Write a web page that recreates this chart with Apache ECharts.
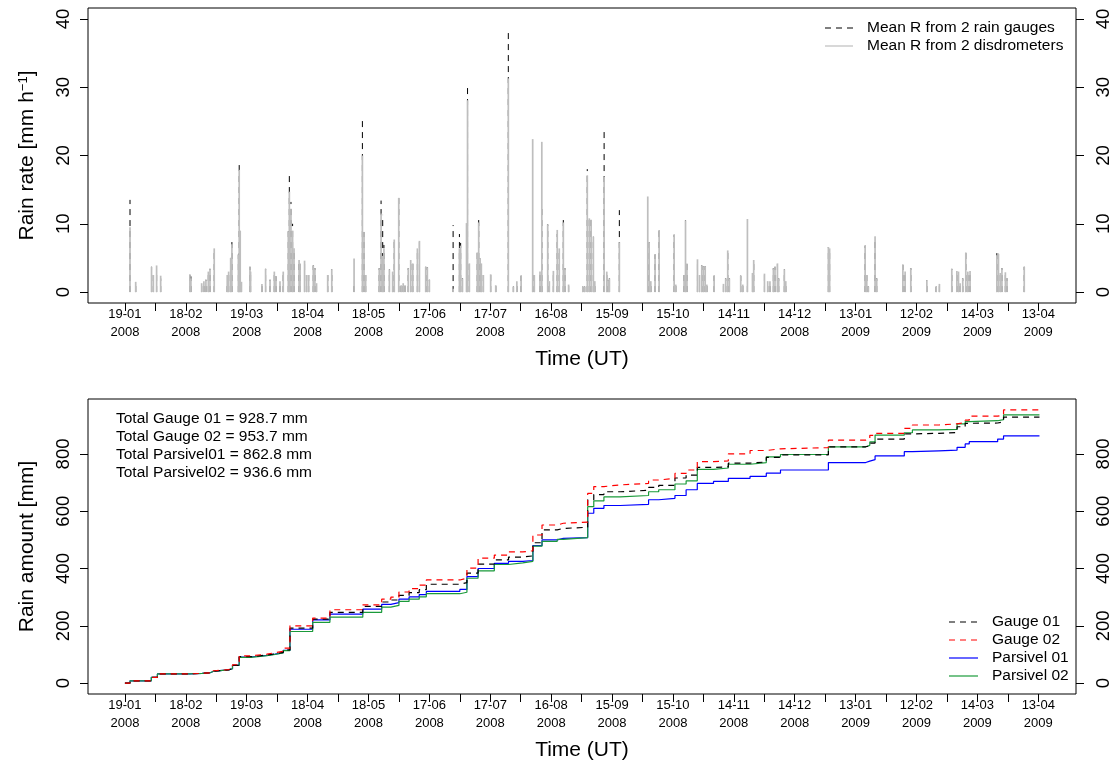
<!DOCTYPE html>
<html>
<head>
<meta charset="utf-8">
<title>Rain rate and accumulated rain amount</title>
<script src="https://cdn.jsdelivr.net/npm/echarts@6/dist/echarts.min.js"></script>
<style>
  html, body { margin: 0; padding: 0; background: #ffffff; }
  #chart { width: 1115px; height: 767px; }
</style>
</head>
<body>
<div id="chart"></div>
<script>
// Time is counted in days from 19-01-2008 00 UT.

// Axis ticks: one every 15 days, a date label every 30 days.
const tickDays = [0, 15, 30, 45, 60, 75, 90, 105, 120, 135, 150, 165, 180, 195, 210, 225, 240,
  255, 270, 285, 300, 315, 330, 345, 360, 375, 390, 405, 420, 435, 450];
const labelDays = [0, 30, 60, 90, 120, 150, 180, 210, 240, 270, 300, 330, 360, 390, 420, 450];
const labelDates = ['19-01', '18-02', '19-03', '18-04', '18-05', '17-06', '17-07', '16-08',
  '15-09', '15-10', '14-11', '14-12', '13-01', '12-02', '14-03', '13-04'];
const labelYears = ['2008', '2008', '2008', '2008', '2008', '2008', '2008', '2008',
  '2008', '2008', '2008', '2008', '2009', '2009', '2009', '2009'];
const rateTicks = [0, 10, 20, 30, 40];
const amountTicks = [0, 200, 400, 600, 800];

// Rain-rate peaks [mm h-1]
const rateDays = [2.5, 5.3, 13.1, 14.0, 15.6, 17.6, 32.0, 32.5, 37.8, 38.9, 39.9, 41.1, 41.9, 44.0,
  50.4, 51.1, 52.1, 52.7, 55.9, 56.3, 56.8, 57.4, 61.6, 61.9, 67.5, 69.3, 71.5, 73.6, 74.4, 76.4,
  78.0, 80.5, 81.0, 81.8, 82.6, 83.3, 85.8, 86.3, 88.5, 89.5, 90.5, 92.8, 93.6, 94.4, 99.9, 101.9,
  112.9, 117.0, 117.8, 118.6, 125.3, 126.2, 127.0, 127.6, 130.3, 131.9, 132.7, 134.9, 136.1, 137.1,
  138.0, 139.6, 140.8, 141.8, 144.1, 145.1, 148.2, 149.0, 150.0, 161.7, 164.8, 165.4, 166.3, 168.3,
  168.8, 169.7, 173.6, 174.3, 175.0, 175.6, 176.6, 180.2, 182.7, 188.9, 191.4, 193.1, 195.2, 200.9,
  201.7, 204.5, 205.4, 208.3, 209.1, 211.1, 213.0, 214.0, 216.0, 216.8, 218.6, 225.6, 226.5, 227.8,
  228.8, 229.7, 230.8, 231.5, 236.1, 237.4, 238.1, 238.7, 243.6, 257.6, 258.3, 259.1, 261.2, 263.2,
  270.6, 271.4, 275.5, 276.2, 276.9, 282.1, 283.1, 284.2, 285.0, 285.9, 286.7, 290.3, 294.9, 296.0,
  297.0, 297.8, 303.4, 304.4, 306.7, 309.2, 309.8, 315.1, 316.7, 317.8, 319.5, 320.3, 321.5, 322.1,
  324.9, 325.6, 346.6, 347.2, 364.7, 365.5, 366.3, 369.6, 370.4, 383.3, 384.4, 387.2, 395.1, 399.7,
  401.3, 407.4, 409.9, 410.7, 411.5, 412.8, 414.3, 415.3, 416.4, 429.6, 430.4, 431.3, 432.1, 433.8,
  434.6, 443.1];
const gaugeRate = [13.5, 1.5, 3.7, 2.5, 3.0, 2.0, 2.6, 2.3, 1.3, 1.6, 1.8, 3.0, 3.4, 6.4,
  1.2, 3.0, 5.0, 7.9, 5.5, 19.2, 9.1, 1.5, 3.7, 3.0, 1.2, 3.4, 1.8, 3.0, 2.3, 1.6,
  3.0, 8.9, 17.4, 13.2, 10.0, 6.4, 4.7, 4.2, 4.6, 2.5, 2.5, 3.9, 3.5, 1.3, 2.5, 3.3,
  1.0, 25.2, 8.8, 2.5, 3.5, 13.4, 11.3, 6.9, 3.3, 3.0, 7.7, 13.8, 1.0, 1.3,
  1.0, 3.5, 4.7, 4.2, 6.4, 7.5, 3.7, 3.6, 1.8, 9.8, 8.5, 7.2, 2.0, 5.0,
  30.6, 4.2, 5.8, 10.8, 4.9, 4.2, 2.5, 2.6, 1.0, 38.6, 0.8, 1.6, 2.4, 2.5,
  2.5, 3.0, 12.6, 9.9, 1.6, 3.1, 8.5, 6.4, 11.1, 3.5, 1.1, 0.8, 0.8, 18.0,
  10.8, 10.6, 8.1, 1.6, 23.7, 3.0, 1.7, 2.0, 12.0, 4.0, 7.3, 1.6, 5.5, 9.1,
  8.4, 1.1, 2.5, 10.5, 4.2, 4.8, 2.5, 3.9, 3.8, 3.8, 1.1, 2.4, 1.2, 2.0,
  6.1, 2.0, 2.4, 1.1, 1.5, 2.8, 4.7, 2.7, 1.6, 1.6, 3.5, 3.7, 4.2, 2.0,
  3.3, 1.6, 6.6, 6.4, 6.8, 2.5, 0.8, 8.1, 2.0, 4.0, 3.0, 3.5, 1.7, 0.8,
  1.2, 3.4, 3.1, 3.0, 1.3, 2.0, 5.8, 3.0, 3.1, 5.7, 5.6, 2.8, 3.5, 2.9,
  2.0, 3.7];
const disdroRate = [9.5, 1.5, 3.7, 2.5, 3.9, 2.4, 2.6, 2.0, 1.3, 1.6, 1.8, 3.0, 3.4, 6.4,
  2.5, 3.0, 5.0, 7.0, 5.5, 17.9, 9.0, 1.5, 3.7, 3.0, 1.2, 3.4, 1.8, 3.0, 2.3, 1.6,
  3.0, 8.9, 14.7, 12.2, 9.0, 6.4, 4.7, 4.2, 4.6, 2.5, 2.5, 3.9, 3.5, 1.3, 2.5, 3.3,
  4.9, 20.0, 8.8, 2.5, 3.5, 11.5, 5.3, 6.4, 3.3, 3.0, 7.7, 13.8, 1.0, 1.3,
  1.0, 3.5, 4.7, 4.2, 6.4, 7.5, 3.7, 3.6, 1.8, 0.5, 6.4, 6.8, 2.0, 10.1,
  28.1, 4.2, 5.8, 10.2, 4.9, 4.2, 2.5, 2.6, 1.0, 31.3, 0.8, 1.6, 2.4, 22.4,
  2.5, 3.0, 22.0, 9.9, 1.6, 3.1, 9.1, 6.4, 10.2, 3.5, 1.1, 0.8, 0.8, 17.1,
  10.8, 10.6, 8.1, 1.6, 16.9, 3.0, 1.7, 2.0, 7.3, 14.0, 7.3, 1.6, 5.5, 9.1,
  8.4, 1.1, 2.5, 10.5, 4.2, 4.8, 2.5, 3.9, 3.8, 3.8, 1.1, 2.4, 1.2, 2.0,
  6.1, 2.0, 2.4, 1.1, 10.7, 2.8, 4.7, 2.7, 1.6, 1.6, 3.5, 3.7, 4.2, 2.0,
  3.3, 1.6, 6.6, 6.4, 6.8, 2.5, 0.8, 8.1, 2.0, 4.0, 3.0, 3.5, 1.7, 0.8,
  1.2, 3.4, 3.1, 3.0, 1.3, 2.0, 5.8, 3.0, 3.1, 5.4, 5.6, 2.8, 3.5, 2.9,
  2.0, 3.7];

// Accumulated rain amount [mm] after each rain spell
const stepDays = [0, 2.5, 13, 16, 32, 38, 42, 44, 51, 53, 56.3, 62, 70, 74, 78, 81.3, 92.5, 101,
  117.2, 126.5, 131, 135, 140, 145, 148.5, 165, 168.5, 174, 182, 189, 196, 201, 205.5, 213, 216,
  228, 231, 236, 244, 258, 263, 271, 276.5, 282, 290, 297.3, 308, 316, 323, 346.6, 365, 367,
  369.6, 384, 388, 401, 410, 414, 416, 430, 432.9, 450.6];
const gauge01Total = [0, 8, 20, 32, 34, 36, 42, 46, 50, 62, 92, 98, 102, 107, 116, 192, 223, 247,
  268, 283, 290, 306, 316, 326, 345, 351, 384, 415, 430, 440, 444, 490, 535, 540, 544,
  640, 658, 668, 673, 683, 690, 716, 726, 753, 755, 768, 772, 788, 797, 825, 828, 838,
  852, 870, 872, 875, 895, 907, 908, 912, 928.7, 928.7];
const gauge02Total = [0, 8, 20, 32, 34, 36, 43, 47, 52, 64, 95, 101, 106, 111, 122, 200, 227, 256,
  273, 293, 300, 318, 330, 342, 360, 366, 401, 436, 447, 458, 462, 517, 552, 558, 562,
  662, 686, 692, 697, 709, 715, 732, 744, 773, 776, 800, 812, 818, 822, 848, 852, 865,
  872, 889, 901, 905, 910, 918, 932, 936, 953.7, 953.7];
const parsivel01Total = [0, 8, 20, 32, 34, 36, 42, 46, 50, 62, 91, 97, 101, 106, 114, 188, 221, 241,
  258, 275, 281, 293, 301, 309, 320, 327, 372, 400, 418, 425, 428, 480, 500, 505, 508,
  593, 610, 620, 624, 640, 645, 655, 675, 697, 704, 715, 722, 733, 744, 770, 775, 780,
  793, 808, 811, 813, 823, 835, 843, 852, 862.8, 862.8];
const parsivel02Total = [0, 8, 20, 32, 34, 36, 42, 46, 50, 62, 90, 96, 100, 105, 113, 180, 212, 230,
  247, 265, 271, 285, 293, 301, 312, 317, 366, 392, 414, 420, 425, 478, 495, 502, 508,
  616, 636, 650, 655, 668, 675, 695, 706, 746, 751, 764, 770, 790, 798, 825, 830, 842,
  866, 874, 884, 886, 905, 913, 916, 920, 936.6, 936.6];

const rateNames = ['Mean R from 2 rain gauges', 'Mean R from 2 disdrometers'];
const amountNames = ['Gauge 01', 'Gauge 02', 'Parsivel 01', 'Parsivel 02'];
const totalLabels = ['Total Gauge 01', 'Total Gauge 02', 'Total Parsivel01', 'Total Parsivel02'];

const FONT = '"Liberation Sans", Arial, Helvetica, sans-serif';
const GREY = '#BEBEBE';
const DASH = [6, 5];
const amountColors = ['#000000', '#FF0000', '#0000FF', '#1A9A3A'];
const amountDash = [DASH, DASH, 'solid', 'solid'];
const amountArrays = [gauge01Total, gauge02Total, parsivel01Total, parsivel02Total];

const chart = echarts.init(document.getElementById('chart'), null, { renderer: 'canvas' });

function timeAxis(gridIndex) {
  return {
    type: 'value', gridIndex: gridIndex,
    min: -18.2, max: 468.6,
    name: 'Time (UT)', nameLocation: 'middle', nameGap: 46,
    nameTextStyle: { fontFamily: FONT, fontSize: 21, color: '#000' },
    axisLine: { show: false, onZero: false },
    splitLine: { show: false },
    axisTick: { show: true, length: 8, customValues: tickDays, lineStyle: { color: '#000', width: 1 } },
    axisLabel: {
      customValues: labelDays, margin: 2, fontFamily: FONT, fontSize: 13, color: '#000',
      lineHeight: 18,
      formatter: function (v) {
        const i = labelDays.indexOf(Math.round(v));
        return i < 0 ? '' : labelDates[i] + '\n' + labelYears[i];
      }
    }
  };
}

function valueAxis(gridIndex, position, min, max, ticks, name) {
  const ax = {
    type: 'value', gridIndex: gridIndex, position: position, min: min, max: max,
    axisLine: { show: false, onZero: false },
    splitLine: { show: false },
    axisTick: { show: true, length: 8, customValues: ticks, lineStyle: { color: '#000', width: 1 } },
    axisLabel: {
      customValues: ticks, rotate: 90, margin: position === 'left' ? 15 : 18,
      fontFamily: FONT, fontSize: 18.5, color: '#000'
    }
  };
  if (name) {
    ax.name = name;
    ax.nameLocation = 'middle';
    ax.nameRotate = 90;
    ax.nameGap = 50;
    ax.nameTextStyle = {
      fontFamily: FONT, fontSize: 21, color: '#000',
      rich: { sup: { fontFamily: FONT, fontSize: 13, color: '#000', verticalAlign: 'top', lineHeight: 14 } }
    };
  }
  return ax;
}

function spikeRenderer(color, width, dash) {
  return function (params, api) {
    const d = api.value(0);
    const base = api.coord([d, 0]);
    const peak = api.coord([d, api.value(1)]);
    return {
      type: 'line',
      shape: { x1: base[0], y1: base[1], x2: peak[0], y2: peak[1] },
      style: { stroke: color, lineWidth: width, lineDash: dash, fill: null }
    };
  };
}

const series = [
  {
    name: rateNames[0], type: 'custom', xAxisIndex: 0, yAxisIndex: 0, z: 2,
    renderItem: spikeRenderer('#000000', 1, DASH),
    encode: { x: 0, y: 1 },
    data: rateDays.map(function (d, i) { return [d, gaugeRate[i]]; })
  },
  {
    name: rateNames[1], type: 'custom', xAxisIndex: 0, yAxisIndex: 0, z: 3,
    renderItem: spikeRenderer(GREY, 1.7, null),
    encode: { x: 0, y: 1 },
    data: rateDays.map(function (d, i) { return [d, disdroRate[i]]; })
  }
];
// solid lines first, dashed gauges drawn over them
[2, 3, 0, 1].forEach(function (k) {
  series.push({
    name: amountNames[k], type: 'line', xAxisIndex: 1, yAxisIndex: 2,
    step: 'end', showSymbol: false, symbol: 'none',
    lineStyle: { color: amountColors[k], width: 1.2, type: amountDash[k] },
    data: stepDays.map(function (d, i) { return [d, amountArrays[k][i]]; })
  });
});

// legends and totals
const graphics = [];
function legendRow(x1, x2, xt, y, color, dash, text) {
  graphics.push({
    type: 'line', silent: true,
    shape: { x1: x1, y1: y, x2: x2, y2: y },
    style: { stroke: color, lineWidth: 1.2, lineDash: dash }
  });
  graphics.push({
    type: 'text', silent: true, x: xt, y: y,
    style: { text: text, fontFamily: FONT, fontSize: 15.5, fill: '#000', verticalAlign: 'middle', align: 'left' }
  });
}
legendRow(825, 853, 867, 28, '#000000', DASH, rateNames[0]);
legendRow(825, 853, 867, 46, GREY, null, rateNames[1]);
for (let k = 0; k < 4; k++) {
  legendRow(949, 978, 992, 622 + 18 * k, amountColors[k], amountDash[k] === 'solid' ? null : DASH, amountNames[k]);
}
for (let k = 0; k < 4; k++) {
  const arr = amountArrays[k];
  graphics.push({
    type: 'text', silent: true, x: 116, y: 419 + 18 * k,
    style: {
      text: totalLabels[k] + ' = ' + arr[arr.length - 1].toFixed(1) + ' mm',
      fontFamily: FONT, fontSize: 15.5, fill: '#000', verticalAlign: 'middle', align: 'left'
    }
  });
}

chart.setOption({
  animation: false,
  backgroundColor: '#ffffff',
  grid: [
    { left: 88, top: 8, width: 988, height: 295, show: true, borderColor: '#000', borderWidth: 1, backgroundColor: 'transparent' },
    { left: 88, top: 399, width: 988, height: 295, show: true, borderColor: '#000', borderWidth: 1, backgroundColor: 'transparent' }
  ],
  xAxis: [timeAxis(0), timeAxis(1)],
  yAxis: [
    valueAxis(0, 'left', -1.6, 41.6, rateTicks, 'Rain rate [mm h{sup|\u22121}]'),
    valueAxis(0, 'right', -1.6, 41.6, rateTicks, null),
    valueAxis(1, 'left', -38.15, 991.85, amountTicks, 'Rain amount [mm]'),
    valueAxis(1, 'right', -38.15, 991.85, amountTicks, null)
  ],
  series: series,
  graphic: graphics
});
</script>
</body>
</html>
